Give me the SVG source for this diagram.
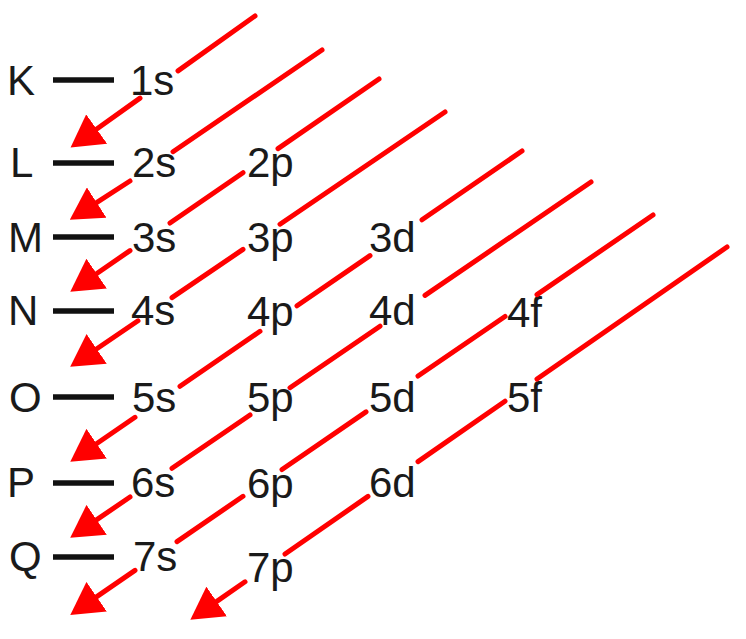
<svg xmlns="http://www.w3.org/2000/svg" width="746" height="639" viewBox="0 0 746 639">
<style>
.t{font-family:"Liberation Sans",Arial,sans-serif;font-size:42px;fill:#1a1a1a}
.d{stroke:#111;stroke-width:5.5}
.a{fill:none;stroke:#f00;stroke-width:5;stroke-linecap:round;marker-end:url(#ah)}
</style>
<defs>
<marker id="ah" viewBox="0 0 32 36" markerWidth="32" markerHeight="36" refX="2" refY="18" orient="auto" markerUnits="userSpaceOnUse">
<path d="M0,0 L32,18 L0,36 z" fill="#f00"/>
</marker>
</defs>
<rect width="746" height="639" fill="#fff"/>
<g id="shells">
<g id="K"><text class="t" x="7" y="95">K</text><line class="d" x1="53" y1="80" x2="114" y2="80"/></g>
<g id="L"><text class="t" x="10" y="177">L</text><line class="d" x1="53" y1="163" x2="114" y2="163"/></g>
<g id="M"><text class="t" x="8" y="252">M</text><line class="d" x1="53" y1="237" x2="114" y2="237"/></g>
<g id="N"><text class="t" x="8" y="325">N</text><line class="d" x1="53" y1="311" x2="114" y2="311"/></g>
<g id="O"><text class="t" x="9" y="412">O</text><line class="d" x1="53" y1="397" x2="114" y2="397"/></g>
<g id="P"><text class="t" x="7" y="497">P</text><line class="d" x1="53" y1="483" x2="114" y2="483"/></g>
<g id="Q"><text class="t" x="9" y="571">Q</text><line class="d" x1="53" y1="557" x2="114" y2="557"/></g>
</g>
<g id="orbitals">
<g id="o1s"><text class="t" x="130" y="95">1s</text></g>
<g id="o2s"><text class="t" x="132" y="177">2s</text></g>
<g id="o2p"><text class="t" x="247" y="177">2p</text></g>
<g id="o3s"><text class="t" x="132" y="252">3s</text></g>
<g id="o3p"><text class="t" x="247" y="252">3p</text></g>
<g id="o3d"><text class="t" x="369" y="252">3d</text></g>
<g id="o4s"><text class="t" x="131" y="325">4s</text></g>
<g id="o4p"><text class="t" x="247" y="326">4p</text></g>
<g id="o4d"><text class="t" x="369" y="325">4d</text></g>
<g id="o4f"><text class="t" x="507" y="327">4f</text></g>
<g id="o5s"><text class="t" x="132" y="412">5s</text></g>
<g id="o5p"><text class="t" x="247" y="412">5p</text></g>
<g id="o5d"><text class="t" x="369" y="412">5d</text></g>
<g id="o5f"><text class="t" x="507" y="412">5f</text></g>
<g id="o6s"><text class="t" x="131" y="497">6s</text></g>
<g id="o6p"><text class="t" x="247" y="498">6p</text></g>
<g id="o6d"><text class="t" x="369" y="497">6d</text></g>
<g id="o7s"><text class="t" x="133" y="571">7s</text></g>
<g id="o7p"><text class="t" x="247" y="582">7p</text></g>
</g>
<g id="connectors">
<path class="a" d="M255,16 L178,70.9 M140,98.1 L95,130.2"/>
<path class="a" d="M322,50 L173,151.7 M130,181 L95,203.6"/>
<path class="a" d="M379,79 L278,148.6 M243,172.7 L170,223 M130,250.6 L95,274.7"/>
<path class="a" d="M445,112 L280,224.2 M243,249.4 L172,297.6 M138,320.8 L95,350"/>
<path class="a" d="M522,151 L422,219.8 M370,255.6 L297,305.8 M260,331.3 L180,386.3 M135,417.3 L95,444.8"/>
<path class="a" d="M591,182 L425,295.4 M380,326.2 L290,387.7 M250,415 L172,468.3 M130,497 L95,520.9"/>
<path class="a" d="M653,215 L537,294.6 M505,316.5 L418,376 M366,411.9 L282,469.5 M243,496.3 L177,541.6 M135,570.4 L95,597.9"/>
<path class="a" d="M727,247 L537,379 M505,401.2 L418,461.6 M368,496.4 L285,554 M245,581.8 L215,602.6"/>
</g>
</svg>
